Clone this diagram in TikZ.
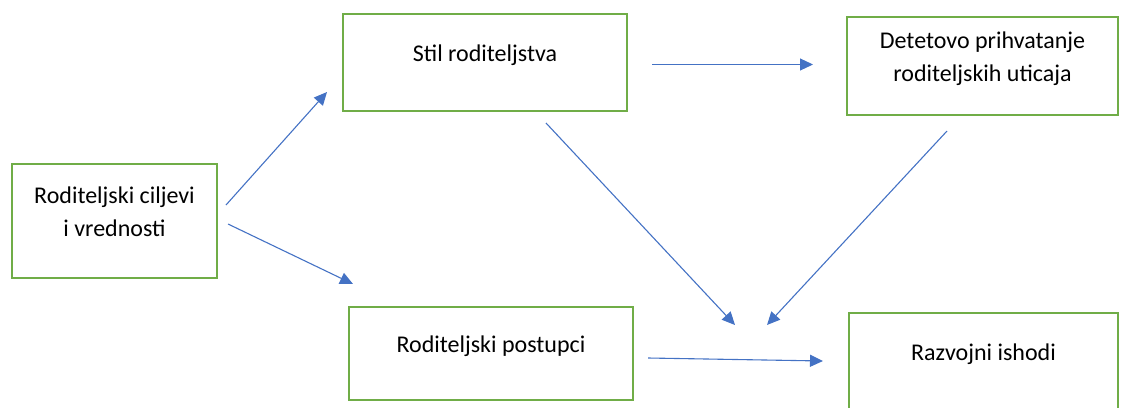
\documentclass[tikz,border=0pt]{standalone}
\usepackage{fontspec}
\setmainfont{Carlito}
\usetikzlibrary{arrows.meta}
\definecolor{boxgreen}{HTML}{70AD47}
\definecolor{arrowblue}{HTML}{4472C4}

\begin{document}
\begin{tikzpicture}[x=1pt,y=-1pt,>={Triangle[length=13pt,width=12pt]},
  box/.style={draw=boxgreen,line width=2pt,minimum height=97pt,align=center,
    text depth=18pt,font=\fontsize{24}{33}\selectfont},
  arrow/.style={->,draw=arrowblue,line width=1.1pt}]
  \useasboundingbox (0,0) rectangle (1123,407);
  \clip (0,0) rectangle (1123,407);
  \node[box,minimum width=205pt,minimum height=114pt] (goals) at (114.5,221)
    {Roditeljski ciljevi\\i vrednosti};
  \node[box,minimum width=284pt] (style) at (485,62.5) {Stil roditeljstva};
  \node[box,minimum width=271pt,minimum height=98pt] (accept) at (982.5,66)
    {Detetovo prihvatanje\\roditeljskih uticaja};
  \node[box,minimum width=284pt,minimum height=93pt] (practice) at (491,353.5)
    {Roditeljski postupci};
  \node[box,minimum width=269pt] (outcome) at (983.5,361) {Razvojni ishodi};
  % free-standing arrow ends
  \coordinate (goals-up) at (226,205);
  \coordinate (style-in) at (327,92);
  \coordinate (goals-down) at (228,224);
  \coordinate (practice-in) at (353,284);
  \coordinate (style-right) at (652,64.5);
  \coordinate (accept-in) at (813,64.5);
  \coordinate (style-down) at (546,123);
  \coordinate (outcome-left) at (735,325);
  \coordinate (accept-down) at (947,131);
  \coordinate (outcome-right) at (767,325);
  \coordinate (practice-right) at (648,358);
  \coordinate (outcome-in) at (823,361);
  \draw[arrow] (goals-up)--(style-in);
  \draw[arrow] (goals-down)--(practice-in);
  \draw[arrow] (style-right)--(accept-in);
  \draw[arrow] (style-down)--(outcome-left);
  \draw[arrow] (accept-down)--(outcome-right);
  \draw[arrow] (practice-right)--(outcome-in);
\end{tikzpicture}
\end{document}
